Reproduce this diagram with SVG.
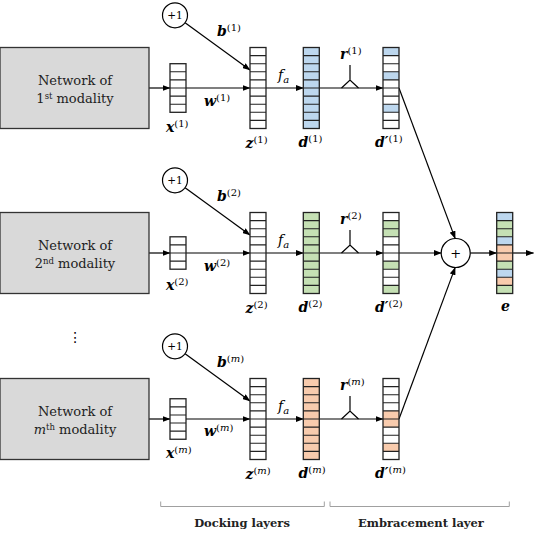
<svg xmlns="http://www.w3.org/2000/svg" xmlns:xlink="http://www.w3.org/1999/xlink" width="534" height="544" viewBox="0 0 534 544">
<style>
.box{fill:#d9d9d9;stroke:#333;stroke-width:1.3}
.bx{font-family:"DejaVu Serif",serif;font-size:13px;text-anchor:middle;fill:#222}
.m{font-family:"DejaVu Serif",serif;font-size:14px;font-weight:bold;font-style:italic;fill:#000}
.s{font-size:10px;font-weight:normal;font-style:normal}
.fa{font-family:"DejaVu Serif",serif;font-size:14px;font-style:italic;fill:#000}
.ln{stroke:#000;stroke-width:1.2;fill:none}
.ar{stroke:#000;stroke-width:1.2;fill:none;marker-end:url(#ah)}
.cir{fill:#fff;stroke:#000;stroke-width:1.2}
.one{font-family:"DejaVu Serif",serif;font-size:10.5px;text-anchor:middle;fill:#000}
.wh{fill:#fff}
.bl{fill:#bdd7ee}
.gr{fill:#c5e0b4}
.or{fill:#f8cbad}
.br{stroke:#a0a0a0;stroke-width:1;fill:none}
.lab{font-family:"DejaVu Serif",serif;font-size:11.5px;font-weight:bold;text-anchor:middle;fill:#222}
</style>
<defs>
<marker id="ah" markerWidth="8" markerHeight="6" refX="7.5" refY="3" orient="auto" markerUnits="userSpaceOnUse"><path d="M0,0 L8,3 L0,6 z" fill="#000"/></marker>
<g id="g10"><rect x="0" y="0" width="16" height="81" fill="none" stroke="#222" stroke-width="1.3"/><path d="M0,8.1H16M0,16.2H16M0,24.3H16M0,32.4H16M0,40.5H16M0,48.6H16M0,56.7H16M0,64.8H16M0,72.9H16" stroke="#222" stroke-width="1.1"/></g>
<g id="g6"><rect x="0" y="0" width="16" height="48.6" fill="#fff" stroke="#222" stroke-width="1.3"/><path d="M0,8.1H16M0,16.2H16M0,24.3H16M0,32.4H16M0,40.5H16" stroke="#222" stroke-width="1.1"/></g>
<g id="g5"><rect x="0" y="0" width="16" height="40.5" fill="#fff" stroke="#222" stroke-width="1.3"/><path d="M0,8.1H16M0,16.2H16M0,24.3H16M0,32.4H16" stroke="#222" stroke-width="1.1"/></g>
<g id="g4"><rect x="0" y="0" width="16" height="32.4" fill="#fff" stroke="#222" stroke-width="1.3"/><path d="M0,8.1H16M0,16.2H16M0,24.3H16" stroke="#222" stroke-width="1.1"/></g>
<path id="wedge" d="M0,-23 V-8 M-8.5,0 L0,-8 L8.5,0" stroke="#000" stroke-width="1.2" fill="none"/>
</defs>

<g id="connectors">
<line class="ar" x1="149" y1="88" x2="170" y2="88"/>
<line class="ar" x1="186" y1="88" x2="250" y2="88"/>
<line class="ar" x1="185.1" y1="22.7" x2="250" y2="70"/>
<line class="ar" x1="266" y1="88" x2="303.3" y2="88"/>
<line class="ar" x1="319.3" y1="88" x2="383" y2="88"/>
<use href="#wedge" x="350" y="88"/>
<line class="ar" x1="399" y1="88" x2="455.2" y2="238.6"/>
<line class="ar" x1="149" y1="253" x2="170" y2="253"/>
<line class="ar" x1="186" y1="253" x2="250" y2="253"/>
<line class="ar" x1="185.1" y1="187.7" x2="250" y2="235"/>
<line class="ar" x1="266" y1="253" x2="303.3" y2="253"/>
<line class="ar" x1="319.3" y1="253" x2="383" y2="253"/>
<use href="#wedge" x="350" y="253"/>
<line class="ar" x1="399" y1="253" x2="441.2" y2="253"/>
<line class="ar" x1="470.2" y1="253" x2="496.7" y2="253"/>
<line class="ar" x1="512.7" y1="253" x2="533.5" y2="253"/>
<line class="ar" x1="149" y1="419" x2="170" y2="419"/>
<line class="ar" x1="186" y1="419" x2="250" y2="419"/>
<line class="ar" x1="185.1" y1="353.7" x2="250" y2="401"/>
<line class="ar" x1="266" y1="419" x2="303.3" y2="419"/>
<line class="ar" x1="319.3" y1="419" x2="383" y2="419"/>
<use href="#wedge" x="350" y="419"/>
<line class="ar" x1="399" y1="419" x2="455.2" y2="267.4"/>
</g>

<g id="net1"><rect class="box" x="0" y="47.5" width="149" height="81"/>
<text class="bx" x="75" y="85">Network of</text>
<text class="bx" x="75" y="103">1<tspan font-size="8.5" dy="-4.5">st</tspan><tspan dy="4.5"> modality</tspan></text></g>
<g id="net2"><rect class="box" x="0" y="212.5" width="149" height="81"/>
<text class="bx" x="75" y="250">Network of</text>
<text class="bx" x="75" y="268">2<tspan font-size="8.5" dy="-4.5">nd</tspan><tspan dy="4.5"> modality</tspan></text></g>
<g id="netm"><rect class="box" x="0" y="378.5" width="149" height="81"/>
<text class="bx" x="75" y="416">Network of</text>
<text class="bx" x="75" y="434"><tspan font-style="italic">m</tspan><tspan font-size="8.5" dy="-4.5">th</tspan><tspan dy="4.5"> modality</tspan></text></g>

<g id="dots"><text x="75.3" y="342" font-family="DejaVu Sans,sans-serif" font-size="14" text-anchor="middle" fill="#000">⋮</text></g>

<g id="one1"><circle class="cir" cx="175" cy="15.3" r="12.5"/><text class="one" x="175" y="19">+1</text></g>
<g id="one2"><circle class="cir" cx="175" cy="180.3" r="12.5"/><text class="one" x="175" y="184">+1</text></g>
<g id="onem"><circle class="cir" cx="175" cy="346.3" r="12.5"/><text class="one" x="175" y="350">+1</text></g>

<g id="x1"><use href="#g6" x="170" y="63.7"/></g>
<g id="x2"><use href="#g4" x="170" y="236.8"/></g>
<g id="xm"><use href="#g5" x="170" y="398.75"/></g>

<g id="z1"><rect class="wh" x="250" y="47.5" width="16" height="81"/><use href="#g10" x="250" y="47.5"/></g>
<g id="z2"><rect class="wh" x="250" y="212.5" width="16" height="81"/><use href="#g10" x="250" y="212.5"/></g>
<g id="zm"><rect class="wh" x="250" y="378.5" width="16" height="81"/><use href="#g10" x="250" y="378.5"/></g>

<g id="d1"><rect class="bl" x="303.3" y="47.5" width="16" height="81"/><use href="#g10" x="303.3" y="47.5"/></g>
<g id="d2"><rect class="gr" x="303.3" y="212.5" width="16" height="81"/><use href="#g10" x="303.3" y="212.5"/></g>
<g id="dm"><rect class="or" x="303.3" y="378.5" width="16" height="81"/><use href="#g10" x="303.3" y="378.5"/></g>

<g id="dp1"><rect class="wh" x="383" y="47.5" width="16" height="81"/>
<rect class="bl" x="383" y="47.5" width="16" height="8.1"/><rect class="bl" x="383" y="71.8" width="16" height="8.1"/><rect class="bl" x="383" y="104.2" width="16" height="8.1"/>
<use href="#g10" x="383" y="47.5"/></g>
<g id="dp2"><rect class="wh" x="383" y="212.5" width="16" height="81"/>
<rect class="gr" x="383" y="220.6" width="16" height="16.2"/><rect class="gr" x="383" y="261.1" width="16" height="8.1"/><rect class="gr" x="383" y="285.4" width="16" height="8.1"/>
<use href="#g10" x="383" y="212.5"/></g>
<g id="dpm"><rect class="wh" x="383" y="378.5" width="16" height="81"/>
<rect class="or" x="383" y="410.9" width="16" height="16.2"/><rect class="or" x="383" y="443.3" width="16" height="8.1"/>
<use href="#g10" x="383" y="378.5"/></g>

<g id="sum"><circle class="cir" cx="455.7" cy="253" r="14.5"/><text x="455.7" y="257.5" font-family="DejaVu Serif,serif" font-size="13" text-anchor="middle" fill="#000">+</text></g>

<g id="e"><rect class="bl" x="496.7" y="212.5" width="16" height="8.1"/>
<rect class="gr" x="496.7" y="220.6" width="16" height="16.2"/>
<rect class="bl" x="496.7" y="236.8" width="16" height="8.1"/>
<rect class="or" x="496.7" y="244.9" width="16" height="16.2"/>
<rect class="gr" x="496.7" y="261.1" width="16" height="8.1"/>
<rect class="bl" x="496.7" y="269.2" width="16" height="8.1"/>
<rect class="or" x="496.7" y="277.3" width="16" height="8.1"/>
<rect class="gr" x="496.7" y="285.4" width="16" height="8.1"/>
<use href="#g10" x="496.7" y="212.5"/></g>

<g id="labels">
<text class="m" x="217" y="36">b<tspan class="s" dy="-5">(1)</tspan></text>
<text class="m" x="204" y="106">w<tspan class="s" dy="-5">(1)</tspan></text>
<text class="m" x="166" y="131.5">x<tspan class="s" dy="-5">(1)</tspan></text>
<text class="m" x="245.5" y="148">z<tspan class="s" dy="-5">(1)</tspan></text>
<text class="fa" x="278" y="80">f<tspan font-size="10" dy="2.5">a</tspan></text>
<text class="m" x="298.5" y="147">d<tspan class="s" dy="-5">(1)</tspan></text>
<text class="m" x="340" y="59">r<tspan class="s" dy="-5">(1)</tspan></text>
<text class="m" x="375" y="147">d′<tspan class="s" dy="-5">(1)</tspan></text>

<text class="m" x="217" y="201">b<tspan class="s" dy="-5">(2)</tspan></text>
<text class="m" x="204" y="271">w<tspan class="s" dy="-5">(2)</tspan></text>
<text class="m" x="166" y="289.5">x<tspan class="s" dy="-5">(2)</tspan></text>
<text class="m" x="245.5" y="313">z<tspan class="s" dy="-5">(2)</tspan></text>
<text class="fa" x="278" y="245">f<tspan font-size="10" dy="2.5">a</tspan></text>
<text class="m" x="298.5" y="312">d<tspan class="s" dy="-5">(2)</tspan></text>
<text class="m" x="340" y="224">r<tspan class="s" dy="-5">(2)</tspan></text>
<text class="m" x="375" y="312">d′<tspan class="s" dy="-5">(2)</tspan></text>
<text class="m" x="501" y="311">e</text>

<text class="m" x="217" y="367">b<tspan class="s" dy="-5">(<tspan font-style="italic">m</tspan>)</tspan></text>
<text class="m" x="204" y="436">w<tspan class="s" dy="-5">(<tspan font-style="italic">m</tspan>)</tspan></text>
<text class="m" x="166" y="458">x<tspan class="s" dy="-5">(<tspan font-style="italic">m</tspan>)</tspan></text>
<text class="m" x="245.5" y="479">z<tspan class="s" dy="-5">(<tspan font-style="italic">m</tspan>)</tspan></text>
<text class="fa" x="278" y="411">f<tspan font-size="10" dy="2.5">a</tspan></text>
<text class="m" x="298.5" y="478">d<tspan class="s" dy="-5">(<tspan font-style="italic">m</tspan>)</tspan></text>
<text class="m" x="340" y="390">r<tspan class="s" dy="-5">(<tspan font-style="italic">m</tspan>)</tspan></text>
<text class="m" x="375" y="478">d′<tspan class="s" dy="-5">(<tspan font-style="italic">m</tspan>)</tspan></text>
</g>

<g id="brackets">
<path class="br" d="M160.7,501.5 V506.5 H324.3 V501.5"/>
<path class="br" d="M330,501.5 V506.5 H509.3 V501.5"/>
<text class="lab" x="242" y="527">Docking layers</text>
<text class="lab" x="421" y="527">Embracement layer</text>
</g>
</svg>
